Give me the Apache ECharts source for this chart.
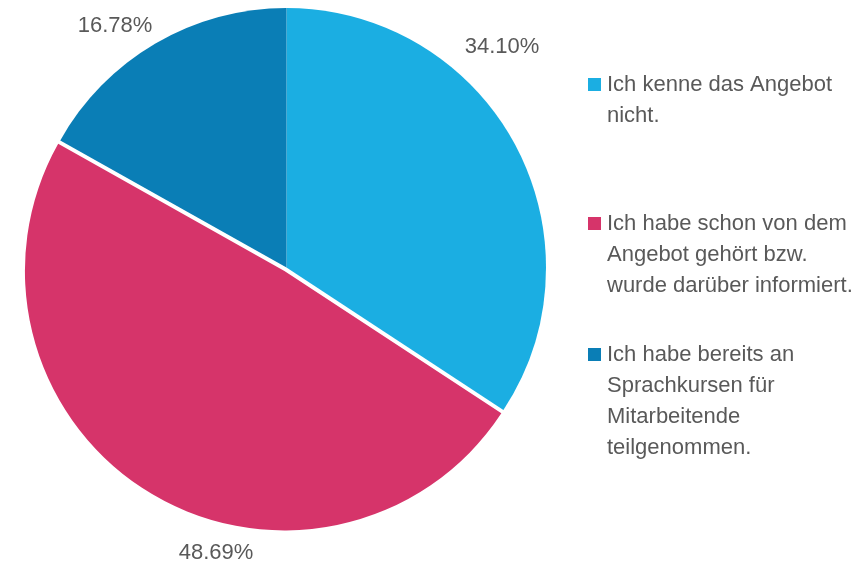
<!DOCTYPE html>
<html>
<head>
<meta charset="utf-8">
<script src="https://cdn.jsdelivr.net/npm/echarts@6/dist/echarts.min.js"></script>
<style>html,body{margin:0;padding:0;background:#fff}#c{width:864px;height:566px}</style>
</head>
<body>
<div id="c"></div>
<script>
const categories = [
  'Ich kenne das Angebot nicht.',
  'Ich habe schon von dem Angebot gehört bzw. wurde darüber informiert.',
  'Ich habe bereits an Sprachkursen für Mitarbeitende teilgenommen.'
];
const legendLines = [
  ['Ich kenne das Angebot', 'nicht.'],
  ['Ich habe schon von dem', 'Angebot gehört bzw.', 'wurde darüber informiert.'],
  ['Ich habe bereits an', 'Sprachkursen für', 'Mitarbeitende', 'teilgenommen.']
];
const values = [34.10, 48.69, 16.78];
const colors = ['#1BAEE2', '#D6346A', '#0A7EB6'];
const explodedIndex = 1;

const FONT = '"Liberation Sans", Arial, sans-serif';
const FS = 22;
const TEXT = '#595959';
const labelPos = [[502, 47], [216, 553], [115, 26]];
const legendTops = [69, 208, 339];

const chart = echarts.init(document.getElementById('c'), null, {renderer: 'canvas'});

const rich = {
  sp: {width: 13, height: 13},
  t: {fontFamily: FONT, fontSize: FS, lineHeight: 31, color: TEXT, padding: [0, 0, 0, 6]}
};
colors.forEach((c, i) => { rich['m' + i] = {width: 13, height: 13, backgroundColor: c}; });

const legends = categories.map((name, i) => ({
  data: [name],
  orient: 'vertical',
  left: 583,
  top: legendTops[i],
  padding: 0,
  icon: 'none',
  itemWidth: 0,
  itemHeight: 13,
  selectedMode: false,
  formatter: () => legendLines[i].map((l, j) => (j === 0 ? '{m' + i + '|}' : '{sp|}') + '{t|' + l + '}').join('\n'),
  textStyle: {fontFamily: FONT, fontSize: FS, lineHeight: 31, color: TEXT, rich: rich}
}));

// exploded slice offset (4px along its mid angle)
const R = 259.5, C = [286.5, 267.5], OFF = 4;
const before = values.slice(0, explodedIndex).reduce((a, b) => a + b, 0);
const total = values.reduce((a, b) => a + b, 0);
const midA = (before + values[explodedIndex] / 2) / total * 2 * Math.PI;
const C2 = [C[0] + Math.sin(midA) * OFF, C[1] - Math.cos(midA) * OFF];

function makeSeries(center, showIdx) {
  return {
    type: 'pie',
    center: center,
    radius: [0, R],
    startAngle: 90,
    clockwise: true,
    silent: true,
    avoidLabelOverlap: false,
    emphasis: {disabled: true},
    itemStyle: {borderWidth: 0},
    labelLine: {show: false},
    labelLayout: p => ({x: labelPos[p.dataIndex][0], y: labelPos[p.dataIndex][1], align: 'center', verticalAlign: 'middle'}),
    data: categories.map((name, i) => ({
      name: name,
      value: values[i],
      itemStyle: {color: showIdx(i) ? colors[i] : 'rgba(0,0,0,0)'},
      label: {
        show: showIdx(i),
        position: 'outside',
        fontFamily: FONT,
        fontSize: FS,
        color: TEXT,
        formatter: p => p.value.toFixed(2) + '%'
      }
    }))
  };
}

chart.setOption({
  animation: false,
  backgroundColor: '#ffffff',
  legend: legends,
  series: [
    makeSeries(C, i => i !== explodedIndex),
    makeSeries(C2, i => i === explodedIndex)
  ]
});
</script>
</body>
</html>
